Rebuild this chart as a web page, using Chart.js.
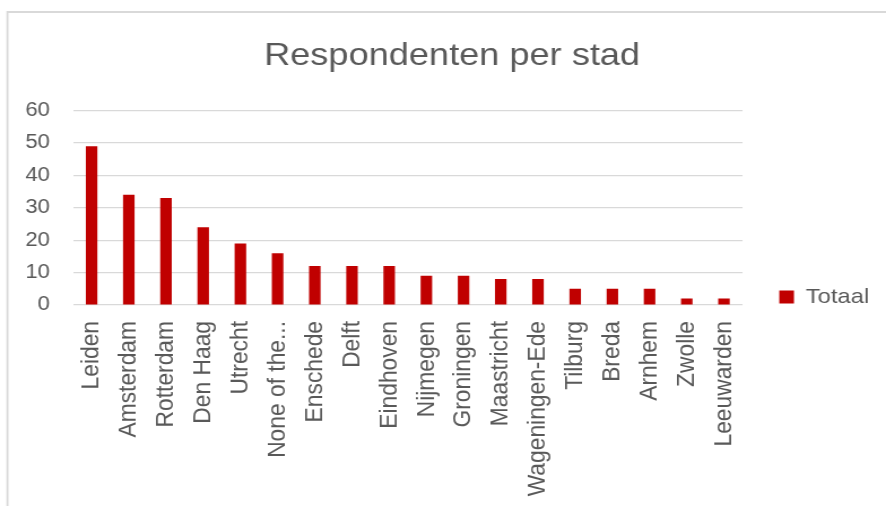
<!DOCTYPE html>
<html>
<head>
<meta charset="utf-8">
<script src="https://cdn.jsdelivr.net/npm/chart.js@4/dist/chart.umd.min.js"></script>
<style>
  html, body { margin: 0; padding: 0; background: #ffffff; overflow: hidden; }
  #chart { display: block; }
</style>
</head>
<body>
<!-- drawn at 784 wide and shown at 886, the reference is stretched sideways -->
<canvas id="chart" width="784" height="506" style="width:886px;height:506px"></canvas>
<script>
const cities = [
  "Leiden", "Amsterdam", "Rotterdam", "Den Haag", "Utrecht", "None of the...",
  "Enschede", "Delft", "Eindhoven", "Nijmegen", "Groningen", "Maastricht",
  "Wageningen-Ede", "Tilburg", "Breda", "Arnhem", "Zwolle", "Leeuwarden",
];
const totaal = [49, 34, 33, 24, 19, 16, 12, 12, 12, 9, 9, 8, 8, 5, 5, 5, 2, 2];
const yTicks = [0, 10, 20, 30, 40, 50, 60];

const FONT = "'Liberation Sans', Arial, sans-serif";
const TEXT = "#595959";
const GRID = "#d9d9d9";
const RED = "#c00000";

// grey frame of the chart object, runs off the right and bottom
const frame = {
  id: "frame",
  beforeDraw(chart) {
    const { ctx } = chart;
    ctx.save();
    ctx.strokeStyle = GRID;
    ctx.lineWidth = 1.8;
    ctx.beginPath();
    ctx.moveTo(6.6, 520);
    ctx.lineTo(6.6, 12);
    ctx.lineTo(800, 12);
    ctx.stroke();
    ctx.restore();
  },
};

new Chart(document.getElementById("chart"), {
  type: "bar",
  data: {
    labels: cities,
    datasets: [
      {
        label: "Totaal",
        data: totaal,
        backgroundColor: RED,
        borderWidth: 0,
        barPercentage: 0.62,
        categoryPercentage: 0.5,
      },
    ],
  },
  options: {
    responsive: false,
    devicePixelRatio: 1,
    animation: false,
    layout: {
      padding: { left: 21, right: 4.9, top: 0, bottom: 0 },
    },
    scales: {
      x: {
        grid: { display: false, drawTicks: false },
        border: { display: false },
        ticks: {
          color: TEXT,
          font: { family: FONT, size: 22.8 },
          autoSkip: false,
          minRotation: 90,
          maxRotation: 90,
          padding: 16,
        },
        afterFit: (scale) => {
          scale.height = 201;
        },
      },
      y: {
        min: 0,
        max: 60,
        grid: { color: GRID, lineWidth: 1.2, drawTicks: false },
        border: { display: false },
        ticks: {
          color: TEXT,
          font: { family: FONT, size: 19.5 },
          padding: 20.4,
        },
        afterBuildTicks: (scale) => {
          scale.ticks = yTicks.map((v) => ({ value: v }));
        },
        afterFit: (scale) => {
          scale.width = 43.6;
        },
      },
    },
    plugins: {
      title: {
        display: true,
        text: "Respondenten per stad",
        color: TEXT,
        font: { family: FONT, size: 32, weight: "normal" },
        padding: { top: 37.3, bottom: 34.8 },
      },
      legend: {
        position: "right",
        // empty title only pushes the item down beside the axis labels
        title: { display: true, text: "", padding: { top: 73.6, bottom: 0 } },
        labels: {
          color: TEXT,
          font: { family: FONT, size: 21 },
          boxWidth: 13,
          boxHeight: 13,
          padding: 32.5,
        },
      },
      tooltip: { enabled: false },
    },
  },
  plugins: [frame],
});
</script>
</body>
</html>
